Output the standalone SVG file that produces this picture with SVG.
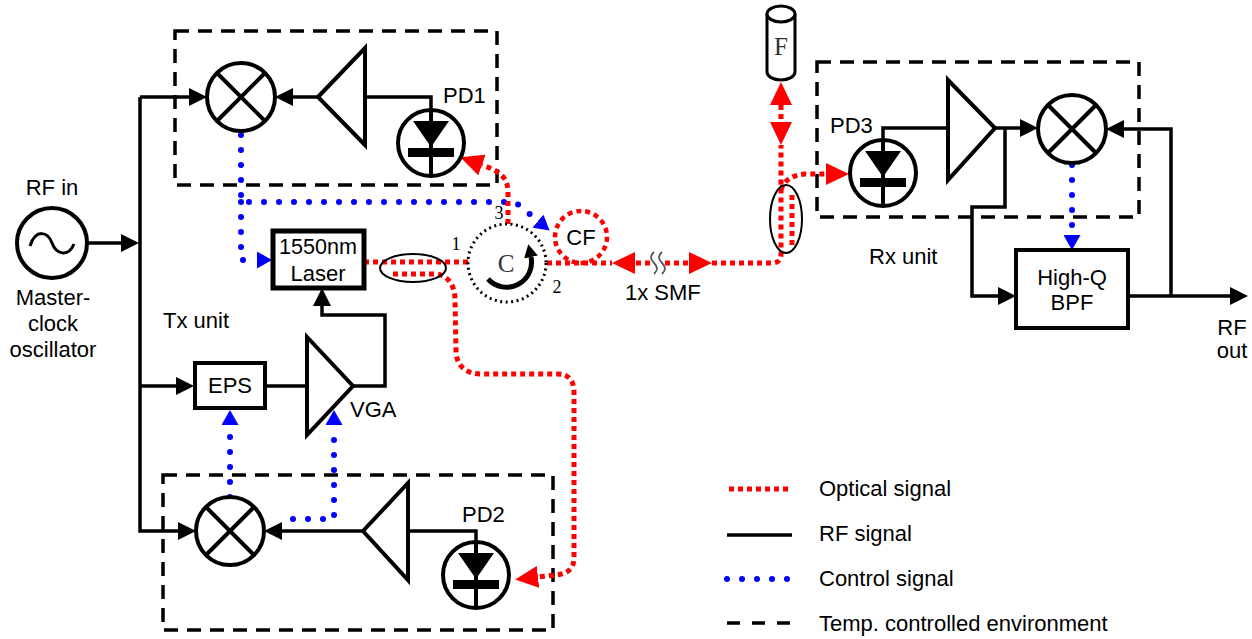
<svg xmlns="http://www.w3.org/2000/svg" width="1252" height="639" viewBox="0 0 1252 639">
<style>
text{font-family:"Liberation Sans",Arial,sans-serif;font-size:22px;fill:#000}
.serif{font-family:"Liberation Serif","Times New Roman",serif}
.rf{fill:none;stroke:#000;stroke-width:3.5}
.opt{fill:none;stroke:#f00;stroke-width:5;stroke-dasharray:5 4}
.ctl{fill:none;stroke:#00f;stroke-width:6;stroke-linecap:round;stroke-dasharray:0 15}
.env{fill:none;stroke:#000;stroke-width:3.5;stroke-dasharray:14 9}
.blk{fill:#fff;stroke:#000;stroke-width:4}
.cross{stroke:#000;stroke-width:4}
.ell{fill:none;stroke:#000;stroke-width:2}
</style>
<defs>
<marker id="ab" markerUnits="userSpaceOnUse" markerWidth="18" markerHeight="18" refX="0" refY="9" orient="auto"><path d="M0,0 L18,9 L0,18 z" fill="#000"/></marker>
<marker id="ac" markerUnits="userSpaceOnUse" markerWidth="13" markerHeight="14" refX="0" refY="7" orient="auto"><path d="M0,0 L13,7 L0,14 z" fill="#000"/></marker>
<marker id="ar" markerUnits="userSpaceOnUse" markerWidth="23" markerHeight="22" refX="0" refY="11" orient="auto-start-reverse"><path d="M0,0 L23,11 L0,22 z" fill="#f00"/></marker>
<marker id="al" markerUnits="userSpaceOnUse" markerWidth="15" markerHeight="17" refX="0" refY="8.5" orient="auto"><path d="M0,0 L15,8.5 L0,17 z" fill="#00f"/></marker>
<g id="mix">
<circle r="34" class="blk"/>
<line x1="-24" y1="-24" x2="24" y2="24" class="cross"/>
<line x1="-24" y1="24" x2="24" y2="-24" class="cross"/>
</g>
<g id="pd">
<circle r="33" class="blk"/>
<line x1="0" y1="-33" x2="0" y2="33" class="cross"/>
<polygon points="-18,-22 18,-22 0,4" fill="#000"/>
<rect x="-23" y="5" width="46" height="9" fill="#000"/>
</g>
</defs>

<!-- environment boxes -->
<g id="tx-env-top"><rect x="175" y="31" width="322" height="154" class="env"/></g>
<g id="tx-env-bottom"><rect x="163" y="475" width="390" height="155" class="env"/></g>
<g id="rx-env"><rect x="817" y="62" width="322" height="155" class="env"/></g>

<g id="connectors">
<!-- RF -->
<path class="rf" d="M140,97 L189,97" marker-end="url(#ab)"/>
<path class="rf" d="M318,97 L293,97" marker-end="url(#ab)"/>
<path class="rf" d="M365,97 L431,97 L431,110"/>
<path class="rf" d="M87,243 L121,243" marker-end="url(#ab)"/>
<path class="rf" d="M140,386 L176,386" marker-end="url(#ab)"/>
<path class="rf" d="M140,97 L140,531 L178,531" marker-end="url(#ab)"/>
<path class="rf" d="M363,531 L282,531" marker-end="url(#ab)"/>
<path class="rf" d="M408,531 L476,531 L476,542"/>
<path class="rf" d="M265,386 L307,386"/>
<path class="rf" d="M353,386 L385,386 L385,315 L322,315 L322,306" marker-end="url(#ab)"/>
<path class="rf" d="M883,140 L883,128 L948,128"/>
<path class="rf" d="M995,128 L1020,128" marker-end="url(#ab)"/>
<path class="rf" d="M1005,128 L1005,207 L972,207 L972,296 L998,296" marker-end="url(#ab)"/>
<path class="rf" d="M1128,296 L1230,296" marker-end="url(#ab)"/>
<path class="rf" d="M1171,296 L1171,129 L1124,129" marker-end="url(#ab)"/>
<!-- control -->
<path class="ctl" d="M241,135 L241,202 L515,202 L538,221" marker-end="url(#al)"/>
<path class="ctl" d="M241,202 L241,260 L257,260" marker-end="url(#al)"/>
<path class="ctl" d="M230,497 L230,425" marker-end="url(#al)"/>
<path class="ctl" d="M293,519 L334,519 L334,425" marker-end="url(#al)"/>
<path class="ctl" d="M1072,165 L1072,235" marker-end="url(#al)"/>
<!-- optical -->
<path class="opt" d="M364,262 L468,262"/>
<path class="opt" d="M393,274 L437,274 C450,276 455,288 455,300 L456,352 C457,368 468,374 482,374 L558,374 C568,374 574,380 574,392 L574,558 C574,570 566,574 556,575 L538,577" marker-end="url(#ar)"/>
<path class="opt" d="M508,224 L508,192 C508,175 496,170 482,165" marker-end="url(#ar)"/>
<path class="opt" d="M547,263 L612,263"/>
<path class="opt" d="M650,263 L635,263" marker-end="url(#ar)"/>
<path class="opt" d="M665,263 L689,263" marker-end="url(#ar)"/>
<path class="opt" d="M712,263 L772,263 Q781,263 781,254 L781,145"/>
<path class="opt" d="M781,105 L781,122" marker-start="url(#ar)" marker-end="url(#ar)"/>
<path class="opt" d="M792,195 L792,248"/>
<path class="opt" d="M781,190 Q785,176 805,174 L826,174" marker-end="url(#ar)"/>
<!-- fibre break -->
<path d="M654,252 c-4,4 -4,7 0,11 c4,4 4,7 0,11 M662,252 c-4,4 -4,7 0,11 c4,4 4,7 0,11" fill="none" stroke="#555" stroke-width="1.8"/>
</g>

<g id="couplers">
<ellipse cx="413" cy="268" rx="33" ry="14" class="ell"/>
<ellipse cx="786" cy="219" rx="16" ry="34" class="ell"/>
</g>

<g id="oscillator">
<circle cx="52" cy="243" r="35" class="blk"/>
<path d="M30,246 C36,228 48,232 52,243 C56,254 68,258 74,244" fill="none" stroke="#000" stroke-width="3"/>
<text x="52" y="195" text-anchor="middle">RF in</text>
<text x="53" y="305" text-anchor="middle">Master-</text>
<text x="53" y="331" text-anchor="middle">clock</text>
<text x="53" y="357" text-anchor="middle">oscillator</text>
</g>

<g id="mixer1"><use href="#mix" x="241" y="97"/></g>
<g id="amp1"><polygon points="318,97 365,48 365,145" class="blk"/></g>
<g id="pd1"><use href="#pd" x="431" y="143"/><text x="443" y="103">PD1</text></g>

<g id="laser">
<rect x="273" y="231" width="91" height="57" fill="#fff" stroke="#000" stroke-width="5"/>
<text x="318" y="254" text-anchor="middle" style="font-size:22px" textLength="78" lengthAdjust="spacingAndGlyphs">1550nm</text>
<text x="318" y="281" text-anchor="middle" style="font-size:22px">Laser</text>
</g>

<g id="circulator">
<circle cx="507" cy="263" r="39" fill="none" stroke="#000" stroke-width="3" stroke-dasharray="2 3.5"/>
<text x="506" y="272" text-anchor="middle" class="serif" style="font-size:25px;fill:#333">C</text>
<path d="M488,279 A25,25 0 0 0 531,257" fill="none" stroke="#000" stroke-width="5" marker-end="url(#ac)"/>
<text x="456" y="250" text-anchor="middle" class="serif" style="font-size:18px">1</text>
<text x="557" y="293" text-anchor="middle" class="serif" style="font-size:18px">2</text>
<text x="499" y="219" text-anchor="middle" class="serif" style="font-size:18px">3</text>
</g>

<g id="cf">
<circle cx="581" cy="237" r="26" fill="none" stroke="#f00" stroke-width="4.5" stroke-dasharray="5 4"/>
<text x="581" y="245" text-anchor="middle">CF</text>
</g>

<g id="smf"><text x="625" y="300">1x SMF</text></g>

<g id="fbg">
<path d="M767,14 L767,72 A14,8 0 0 0 795,72 L795,14" fill="#fff" stroke="#000" stroke-width="3"/>
<ellipse cx="781" cy="14" rx="14" ry="8" fill="#fff" stroke="#000" stroke-width="3"/>
<text x="781" y="55" text-anchor="middle" class="serif" style="font-size:25px;fill:#333">F</text>
</g>

<g id="tx-label"><text x="163" y="328">Tx unit</text></g>

<g id="eps">
<rect x="195" y="363" width="70" height="45" class="blk"/>
<text x="230" y="393" text-anchor="middle">EPS</text>
</g>
<g id="vga">
<polygon points="307,337 353,386 307,435" class="blk"/>
<text x="350" y="417">VGA</text>
</g>

<g id="mixer2"><use href="#mix" x="230" y="531"/></g>
<g id="amp2"><polygon points="363,531 408,483 408,580" class="blk"/></g>
<g id="pd2"><use href="#pd" x="476" y="575"/><text x="462" y="522">PD2</text></g>

<g id="pd3"><use href="#pd" x="883" y="173"/><text x="830" y="133">PD3</text></g>
<g id="amp3"><polygon points="948,80 995,128 948,180" class="blk"/></g>
<g id="mixer3"><use href="#mix" x="1072" y="129"/></g>
<g id="rx-label"><text x="869" y="264">Rx unit</text></g>

<g id="bpf">
<rect x="1016" y="250" width="112" height="78" class="blk"/>
<text x="1072" y="285" text-anchor="middle">High-Q</text>
<text x="1072" y="310" text-anchor="middle">BPF</text>
</g>

<g id="rf-out">
<text x="1232" y="335" text-anchor="middle">RF</text>
<text x="1232" y="358" text-anchor="middle">out</text>
</g>

<g id="legend">
<line x1="729" y1="489" x2="792" y2="489" class="opt"/>
<text x="819" y="496">Optical signal</text>
<line x1="727" y1="535" x2="792" y2="535" class="rf"/>
<text x="819" y="541">RF signal</text>
<line x1="727" y1="579" x2="792" y2="579" class="ctl"/>
<text x="819" y="586">Control signal</text>
<line x1="727" y1="623" x2="792" y2="623" class="env" style="stroke-dasharray:13 12"/>
<text x="819" y="631">Temp. controlled environment</text>
</g>
</svg>
